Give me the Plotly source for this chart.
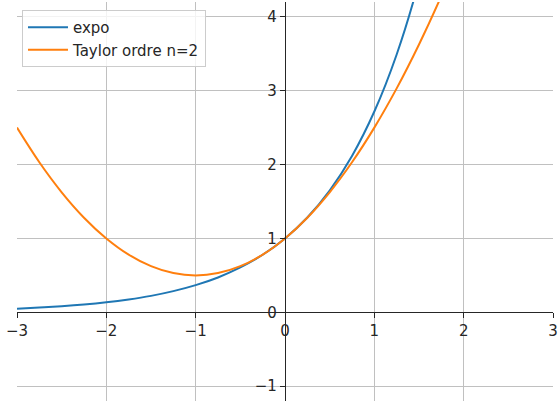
import plotly.graph_objects as go

x_vals = [-3.0, -2.75, -2.5, -2.25, -2.0, -1.75, -1.5, -1.25, -1.0, -0.75, -0.5, -0.25,
          0.0, 0.25, 0.5, 0.75, 1.0, 1.25, 1.5, 1.75, 2.0]
expo_vals = [0.050, 0.064, 0.082, 0.105, 0.135, 0.174, 0.223, 0.287, 0.368, 0.472, 0.607, 0.779,
             1.000, 1.284, 1.649, 2.117, 2.718, 3.490, 4.482, 5.755, 7.389]
taylor_vals = [2.500, 2.031, 1.625, 1.281, 1.000, 0.781, 0.625, 0.531, 0.500, 0.531, 0.625, 0.781,
               1.000, 1.281, 1.625, 2.031, 2.500, 3.031, 3.625, 4.281, 5.000]
series_names = ["expo", "Taylor ordre n=2"]
x_ticks = [-3, -2, -1, 0, 1, 2, 3]
y_ticks = [-1, 0, 1, 2, 3, 4]

fig = go.Figure()
fig.add_trace(go.Scatter(x=x_vals, y=expo_vals, mode="lines", name=series_names[0],
                         line=dict(color="#1f77b4", width=2, shape="spline")))
fig.add_trace(go.Scatter(x=x_vals, y=taylor_vals, mode="lines", name=series_names[1],
                         line=dict(color="#ff7f0e", width=2, shape="spline")))

font = dict(family="DejaVu Sans", size=15, color="#262626")
fig.update_layout(
    width=560, height=401,
    margin=dict(l=17, r=7, t=2, b=0),
    plot_bgcolor="white", paper_bgcolor="white",
    font=font,
    showlegend=True,
    legend=dict(x=0.0093, y=0.98, xanchor="left", yanchor="top",
                bgcolor="rgba(255,255,255,0.8)", bordercolor="#cccccc", borderwidth=1,
                itemwidth=40,
                font=dict(family="DejaVu Sans", size=15, color="#262626")),
    xaxis=dict(range=[-3, 3], tickvals=x_ticks, ticktext=[str(v).replace("-", "\u2212") for v in x_ticks],
               showgrid=True, gridcolor="#c0c0c0", gridwidth=1, zeroline=False,
               showline=True, linecolor="#262626", linewidth=1.2,
               ticks="outside", ticklen=5, tickwidth=1, tickcolor="#262626",
               anchor="free", position=1.2 / 5.4, fixedrange=True),
    yaxis=dict(range=[-1.2, 4.2], tickvals=y_ticks, ticktext=[str(v).replace("-", "\u2212") for v in y_ticks],
               showgrid=True, gridcolor="#c0c0c0", gridwidth=1, zeroline=False,
               showline=True, linecolor="#262626", linewidth=1.2,
               ticks="outside", ticklen=5, tickwidth=1, tickcolor="#262626",
               anchor="free", position=0.5, fixedrange=True),
)

fig.write_html("out.html")
